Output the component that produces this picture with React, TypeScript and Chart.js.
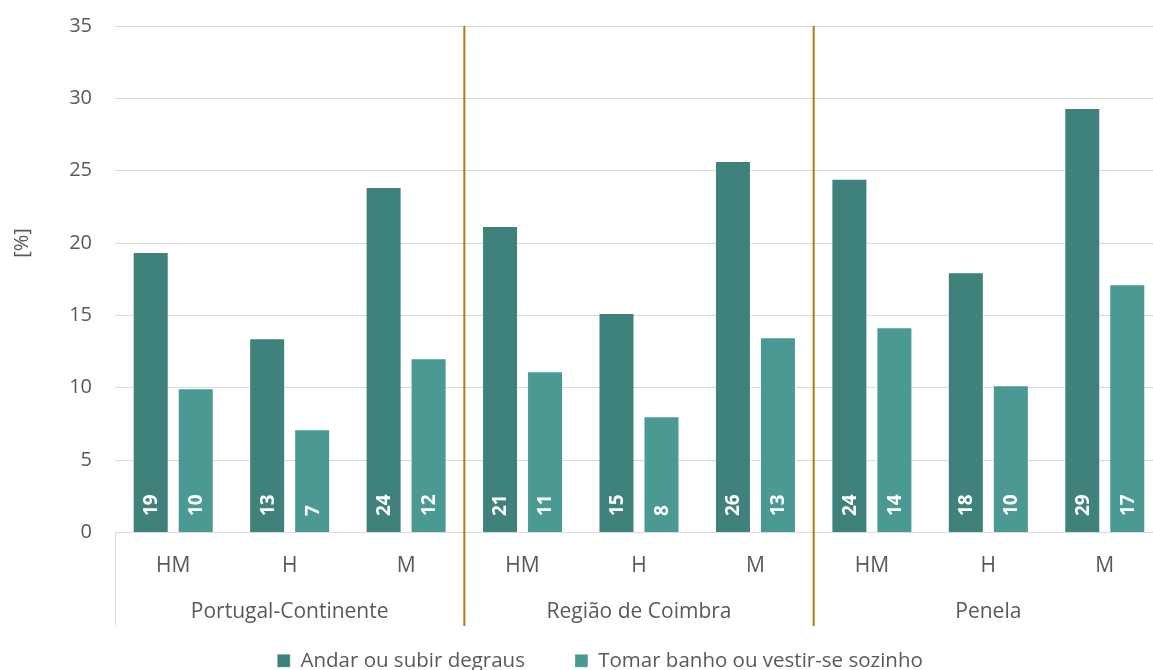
import React, { useEffect, useRef } from "react";
import { Chart, registerables } from "chart.js";

Chart.register(...registerables);

const categories = ["HM", "H", "M", "HM", "H", "M", "HM", "H", "M"];
const groups = ["Portugal-Continente", "Região de Coimbra", "Penela"];
const seriesNames = ["Andar ou subir degraus", "Tomar banho ou vestir-se sozinho"];
const andarValues = [19.38, 13.43, 23.88, 21.18, 15.16, 25.67, 24.45, 17.99, 29.34];
const banhoValues = [9.97, 7.13, 12.04, 11.14, 8.03, 13.49, 14.19, 10.17, 17.16];
const yTicks = [0, 5, 10, 15, 20, 25, 30, 35];

const FONT = '"Open Sans", "Noto Sans", sans-serif';
const TEXT = "#595959";
const GRID = "#d9d9d9";
const SEP = "#B07B0F";
const DARK = "#3E827B";
const LIGHT = "#4A9A93";

const CANVAS_W = 1200;
const CANVAS_H = 681;

const overlayPlugin = {
  id: "overlay",
  afterDatasetsDraw(chart: any) {
    const ctx = chart.ctx;
    ctx.save();
    ctx.font = `bold 19px ${FONT}`;
    ctx.fillStyle = "#ffffff";
    ctx.textAlign = "left";
    ctx.textBaseline = "middle";
    chart.data.datasets.forEach((ds: any, di: number) => {
      const meta = chart.getDatasetMeta(di);
      meta.data.forEach((bar: any, i: number) => {
        const label = Math.round(ds.data[i]).toString();
        ctx.save();
        ctx.translate(bar.x + 1, bar.base - 16);
        ctx.rotate(-Math.PI / 2);
        ctx.fillText(label, 0, 0);
        ctx.restore();
      });
    });
    ctx.restore();
  },
  afterDraw(chart: any) {
    const ctx = chart.ctx;
    const x = chart.scales.x;
    const area = chart.chartArea;
    ctx.save();
    // left boundary line of multi-level axis
    ctx.strokeStyle = GRID;
    ctx.lineWidth = 1;
    ctx.beginPath();
    ctx.moveTo(area.left + 0.5, area.bottom);
    ctx.lineTo(area.left + 0.5, 625);
    ctx.stroke();
    // group labels
    ctx.font = `21px ${FONT}`;
    ctx.fillStyle = TEXT;
    ctx.textAlign = "center";
    ctx.textBaseline = "middle";
    groups.forEach((g, gi) => {
      const cx = x.getPixelForValue(gi * 3 + 1);
      ctx.fillText(g, cx, 612);
    });
    // separators
    ctx.strokeStyle = SEP;
    ctx.lineWidth = 2;
    for (let gi = 1; gi < groups.length; gi++) {
      const px = (x.getPixelForValue(gi * 3 - 1) + x.getPixelForValue(gi * 3)) / 2;
      ctx.beginPath();
      ctx.moveTo(px, area.top);
      ctx.lineTo(px, 626);
      ctx.stroke();
    }
    // y title
    ctx.save();
    ctx.translate(22, 243);
    ctx.rotate(-Math.PI / 2);
    ctx.font = `20px ${FONT}`;
    ctx.fillStyle = TEXT;
    ctx.textAlign = "center";
    ctx.textBaseline = "middle";
    ctx.fillText("[%]", 0, 0);
    ctx.restore();
    ctx.restore();
  },
};

export default function App() {
  const ref = useRef<HTMLCanvasElement | null>(null);
  useEffect(() => {
    if (!ref.current) return;
    const chart = new Chart(ref.current, {
      type: "bar",
      data: {
        labels: categories,
        datasets: [
          {
            label: seriesNames[0],
            data: andarValues,
            backgroundColor: DARK,
            borderColor: "rgba(255,255,255,0.35)",
            borderWidth: 1,
            barPercentage: 0.8,
            categoryPercentage: 0.773,
          },
          {
            label: seriesNames[1],
            data: banhoValues,
            backgroundColor: LIGHT,
            borderColor: "rgba(255,255,255,0.35)",
            borderWidth: 1,
            barPercentage: 0.8,
            categoryPercentage: 0.773,
          },
        ],
      },
      options: {
        responsive: false,
        animation: false,
        devicePixelRatio: 1,
        layout: { padding: { top: 26, left: 0, right: 0, bottom: 0 } },
        plugins: {
          legend: {
            position: "bottom",
            labels: {
              font: { family: FONT, size: 20.5 },
              color: TEXT,
              boxWidth: 13,
              boxHeight: 13,
              padding: 50,
            },
          },
          tooltip: { enabled: false },
        },
        scales: {
          x: {
            grid: { display: false, drawTicks: false },
            border: { display: true, color: GRID },
            ticks: { font: { family: FONT, size: 21 }, color: TEXT, padding: 21 },
            afterFit: (s: any) => {
              s.height = 68;
            },
          },
          y: {
            min: 0,
            max: 35,
            afterBuildTicks: (s: any) => {
              s.ticks = yTicks.map((v) => ({ value: v }));
            },
            grid: { color: GRID, lineWidth: 1, drawTicks: false },
            border: { display: false },
            ticks: { font: { family: FONT, size: 20 }, color: TEXT, padding: 23 },
            afterFit: (s: any) => {
              s.width = 115;
              s.paddingTop = 0;
              s.paddingBottom = 0;
            },
          },
          spacer: {
            type: "linear",
            position: "right",
            display: true,
            grid: { display: false, drawTicks: false },
            border: { display: false },
            ticks: { display: false },
            afterFit: (s: any) => {
              s.width = 37;
              s.paddingTop = 0;
              s.paddingBottom = 0;
            },
          },
        },
      },
      plugins: [overlayPlugin],
    });
    return () => chart.destroy();
  }, []);
  return (
    <div
      style={{
        position: "absolute",
        left: 0,
        top: 0,
        width: 1153,
        height: 670,
        overflow: "hidden",
        background: "#fff",
      }}
    >
      <canvas ref={ref} width={CANVAS_W} height={CANVAS_H} style={{ display: "block" }} />
    </div>
  );
}
